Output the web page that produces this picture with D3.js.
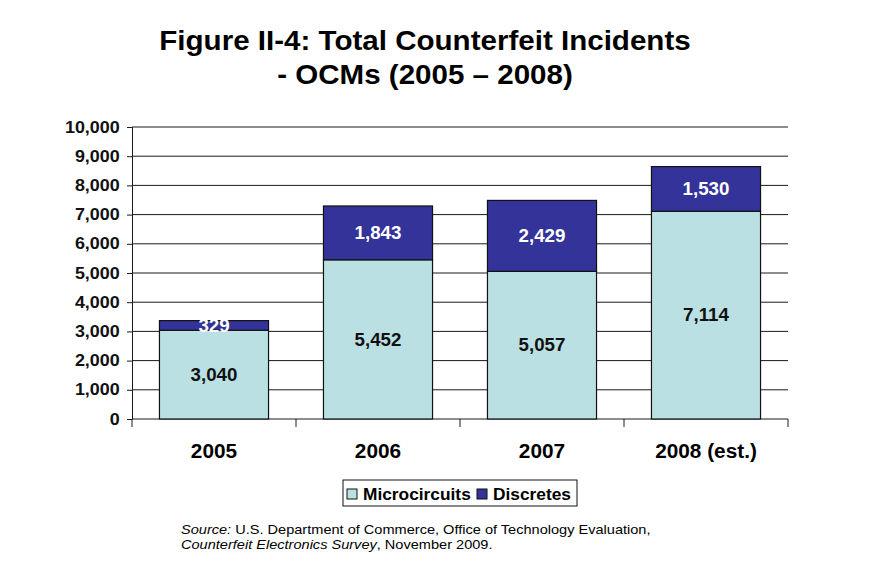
<!DOCTYPE html>
<html>
<head>
<meta charset="utf-8">
<script src="https://cdn.jsdelivr.net/npm/d3@7"></script>
<style>
  body { margin: 0; background: #fff; }
  svg { font-family: "Liberation Sans", Arial, sans-serif; }
</style>
</head>
<body>
<svg width="886" height="575"></svg>
<script>
let years = ["2005", "2006", "2007", "2008 (est.)"],
    microcircuits = [3040, 5452, 5057, 7114],
    discretes = [329, 1843, 2429, 1530],
    yTicks = [0, 1000, 2000, 3000, 4000, 5000, 6000, 7000, 8000, 9000, 10000];

let svg = d3.select('svg');

let margin = {left: 132, right: 98, top: 127, bottom: 156},
    width = 886 - margin.left - margin.right,
    height = 575 - margin.top - margin.bottom;

// text in the original is a bit wider than plain Arial, so stretch it
function wideText(parent, x, y, sx) {
    return parent.append('text')
        .attr('transform', `translate(${x},${y}) scale(${sx},1)`);
}

// title
wideText(svg, 425, 50, 1.095)
    .attr('text-anchor', 'middle')
    .attr('font-size', 27).attr('font-weight', 'bold')
    .text('Figure II-4: Total Counterfeit Incidents');
wideText(svg, 425, 84, 1.095)
    .attr('text-anchor', 'middle')
    .attr('font-size', 27).attr('font-weight', 'bold')
    .text('- OCMs (2005 \u2013 2008)');

let g = svg.append('g')
    .attr('transform', `translate(${margin.left},${margin.top})`);

let x = d3.scaleBand()
    .domain(years)
    .range([0, width])
    .paddingInner(0.335)
    .paddingOuter(0.1675);

let y = d3.scaleLinear()
    .domain([0, 10000])
    .range([height, 0]);

// gridlines
g.append('g')
    .selectAll('line')
    .data(yTicks.slice(1))
    .enter().append('line')
    .attr('x1', 0).attr('x2', width)
    .attr('y1', d => y(d)).attr('y2', d => y(d))
    .attr('stroke', '#1a1a1a').attr('stroke-width', 1);

// y axis
let yAxis = g.append('g')
    .call(d3.axisLeft(y).tickValues(yTicks).tickSize(5).tickFormat(d3.format(',')));
yAxis.select('.domain').attr('stroke', '#1a1a1a');
yAxis.selectAll('line').attr('stroke', '#1a1a1a');
yAxis.selectAll('text')
    .attr('font-size', 16).attr('font-weight', 'bold').attr('fill', '#111')
    .attr('font-family', '"Liberation Sans", Arial, sans-serif')
    .attr('x', -11)
    .attr('transform', 'scale(1.12,1)');

// x axis with boundary ticks
let xAxis = g.append('g')
    .attr('transform', `translate(0,${height})`);
xAxis.append('line')
    .attr('x1', 0).attr('x2', width)
    .attr('stroke', '#1a1a1a');
xAxis.selectAll('.tk')
    .data(d3.range(years.length + 1))
    .enter().append('line')
    .attr('x1', i => i * width / years.length)
    .attr('x2', i => i * width / years.length)
    .attr('y1', 0).attr('y2', 8)
    .attr('stroke', '#1a1a1a');
years.forEach(d => {
    wideText(xAxis, x(d) + x.bandwidth() / 2, 39, 1.04)
        .attr('text-anchor', 'middle')
        .attr('font-size', 20).attr('font-weight', 'bold')
        .text(d);
});

// stacked bars
let stackData = years.map((d, i) => ({year: d, micro: microcircuits[i], disc: discretes[i]}));
let series = d3.stack().keys(['micro', 'disc'])(stackData);
let colors = {micro: '#bbe0e3', disc: '#333399'};

series.forEach(s => {
    g.append('g').selectAll('rect')
        .data(s)
        .enter().append('rect')
        .attr('x', d => x(d.data.year))
        .attr('width', x.bandwidth())
        .attr('y', d => y(d[1]))
        .attr('height', d => y(d[0]) - y(d[1]))
        .attr('fill', colors[s.key])
        .attr('stroke', '#111').attr('stroke-width', 1.2);

    s.forEach(d => {
        wideText(g, x(d.data.year) + x.bandwidth() / 2, (y(d[0]) + y(d[1])) / 2 + 6.3, 1.07)
            .attr('text-anchor', 'middle')
            .attr('font-size', 17.5).attr('font-weight', 'bold')
            .attr('fill', s.key === 'disc' ? '#fff' : '#111')
            .text(d3.format(',')(d[1] - d[0]));
    });
});

// legend
let legend = svg.append('g').attr('transform', 'translate(343,480)');
legend.append('rect')
    .attr('width', 234).attr('height', 26)
    .attr('fill', '#fff').attr('stroke', '#111').attr('stroke-width', 1);
let items = [{label: 'Microcircuits', key: 'micro', x: 4}, {label: 'Discretes', key: 'disc', x: 134}];
items.forEach(it => {
    legend.append('rect')
        .attr('x', it.x).attr('y', 9)
        .attr('width', 10).attr('height', 10)
        .attr('fill', colors[it.key]).attr('stroke', '#111');
    wideText(legend, it.x + 16, 19.5, 1.05)
        .attr('font-size', 16.5).attr('font-weight', 'bold')
        .text(it.label);
});

// source
let src = wideText(svg, 181, 534, 1.12)
    .attr('font-size', 13);
src.append('tspan').attr('font-style', 'italic').text('Source:');
src.append('tspan').text(' U.S. Department of Commerce, Office of Technology Evaluation,');
let src2 = wideText(svg, 181, 549, 1.12)
    .attr('font-size', 13);
src2.append('tspan').attr('font-style', 'italic').text('Counterfeit Electronics Survey');
src2.append('tspan').text(', November 2009.');
</script>
</body>
</html>
